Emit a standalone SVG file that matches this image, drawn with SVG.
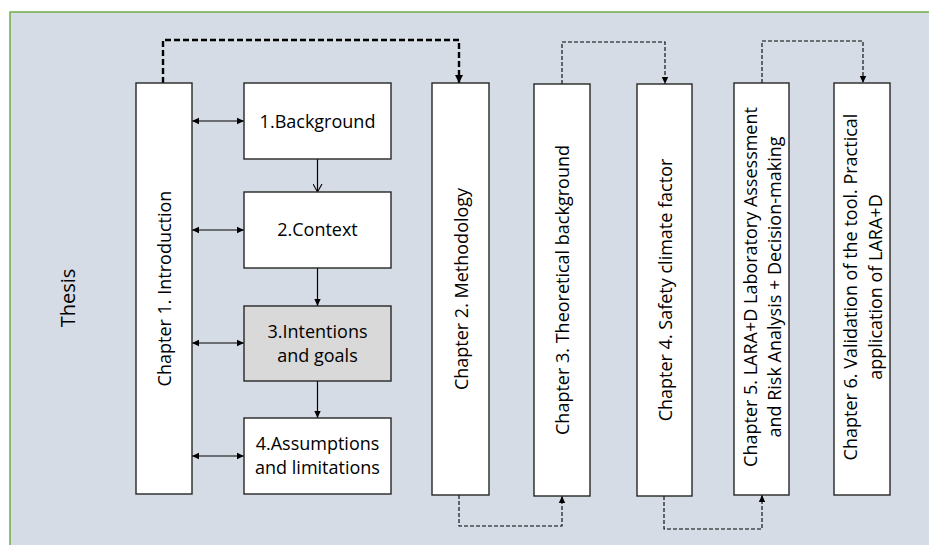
<svg xmlns="http://www.w3.org/2000/svg" width="929" height="545" viewBox="0 0 929 545">
  <style>
    .box { fill: #ffffff; stroke: #262626; stroke-width: 1.4; }
    .grey { fill: #d9d9d9; }
    .lbl { font-family: "Open Sans", "Noto Sans", sans-serif; font-size: 18px; fill: #000000; text-anchor: middle; }
    .link { fill: none; stroke: #000000; stroke-width: 1.2; }
    .thick { fill: none; stroke: #000000; stroke-width: 2.4; stroke-dasharray: 6 3; }
    .thin { fill: none; stroke: #000000; stroke-width: 1.1; stroke-dasharray: 4 2; }
  </style>
  <defs>
    <marker id="tip" markerUnits="userSpaceOnUse" markerWidth="8" markerHeight="8" refX="7" refY="4" orient="auto-start-reverse">
      <path d="M0,0.8 L7,4 L0,7.2 z" fill="#000000"/>
    </marker>
    <marker id="tipBig" markerUnits="userSpaceOnUse" markerWidth="10" markerHeight="10" refX="8" refY="5" orient="auto">
      <path d="M0,1 L8,5 L0,9 z" fill="#000000"/>
    </marker>
    <marker id="vee" markerUnits="userSpaceOnUse" markerWidth="10" markerHeight="10" refX="8" refY="5" orient="auto">
      <path d="M0,0.5 L8,5 L0,9.5" fill="none" stroke="#000000" stroke-width="1.1"/>
    </marker>
  </defs>

  <!-- canvas -->
  <rect x="10" y="12" width="930" height="545" fill="#d6dce5" stroke="#70ad47" stroke-width="1.5"/>
  <text class="lbl" style="font-size:20px" transform="translate(68,298) rotate(-90)" x="0" y="7">Thesis</text>

  <!-- connectors -->
  <g id="connectors">
    <path class="link" d="M192,121 H244" marker-start="url(#tip)" marker-end="url(#tip)"/>
    <path class="link" d="M192,230 H244" marker-start="url(#tip)" marker-end="url(#tip)"/>
    <path class="link" d="M192,343 H244" marker-start="url(#tip)" marker-end="url(#tip)"/>
    <path class="link" d="M192,456 H244" marker-start="url(#tip)" marker-end="url(#tip)"/>
    <path class="link" d="M317.5,159 V192" marker-end="url(#vee)"/>
    <path class="link" d="M317.5,268 V306" marker-end="url(#tip)"/>
    <path class="link" d="M317.5,381 V418" marker-end="url(#tip)"/>
    <path class="thick" d="M163,83 V40 H459 V83" marker-end="url(#tipBig)"/>
    <path class="thin" d="M562,84 V42 H665 V84" marker-end="url(#tip)"/>
    <path class="thin" d="M762,83 V41 H863 V83" marker-end="url(#tip)"/>
    <path class="thin" d="M459,495 V526 H562 V496" marker-end="url(#tip)"/>
    <path class="thin" d="M664,496 V529 H762 V495" marker-end="url(#tip)"/>
  </g>

  <!-- chapter columns -->
  <g id="ch1">
    <rect class="box" x="136" y="83" width="56" height="411"/>
    <text class="lbl" transform="translate(164,288.5) rotate(-90)" x="0" y="7">Chapter 1. Introduction</text>
  </g>
  <g id="ch2">
    <rect class="box" x="432" y="83" width="57" height="412"/>
    <text class="lbl" transform="translate(460.5,289) rotate(-90)" x="0" y="7">Chapter 2. Methodology</text>
  </g>
  <g id="ch3">
    <rect class="box" x="534" y="84" width="56" height="412"/>
    <text class="lbl" transform="translate(562,290) rotate(-90)" x="0" y="7">Chapter 3. Theoretical background</text>
  </g>
  <g id="ch4">
    <rect class="box" x="637" y="84" width="55" height="412"/>
    <text class="lbl" transform="translate(664.5,290) rotate(-90)" x="0" y="7">Chapter 4. Safety climate factor</text>
  </g>
  <g id="ch5">
    <rect class="box" x="734" y="83" width="55" height="412"/>
    <text class="lbl" transform="translate(761.5,287) rotate(-90)" x="0" y="-5">Chapter 5. LARA+D Laboratory Assessment</text>
    <text class="lbl" transform="translate(761.5,287) rotate(-90)" x="0" y="19.5">and Risk Analysis + Decision-making</text>
  </g>
  <g id="ch6">
    <rect class="box" x="834" y="83" width="56" height="412"/>
    <text class="lbl" transform="translate(862,287) rotate(-90)" x="0" y="-5">Chapter 6. Validation of the tool. Practical</text>
    <text class="lbl" transform="translate(862,287) rotate(-90)" x="0" y="19.5">application of LARA+D</text>
  </g>

  <!-- introduction sections -->
  <g id="s1">
    <rect class="box" x="244" y="83" width="147" height="76"/>
    <text class="lbl" x="317.5" y="127.5">1.Background</text>
  </g>
  <g id="s2">
    <rect class="box" x="244" y="192" width="147" height="76"/>
    <text class="lbl" x="317.5" y="236">2.Context</text>
  </g>
  <g id="s3">
    <rect class="box grey" x="244" y="306" width="147" height="75"/>
    <text class="lbl" x="317.5" y="338">3.Intentions</text>
    <text class="lbl" x="317.5" y="362">and goals</text>
  </g>
  <g id="s4">
    <rect class="box" x="244" y="418" width="147" height="76"/>
    <text class="lbl" x="317.5" y="449.5">4.Assumptions</text>
    <text class="lbl" x="317.5" y="473.5">and limitations</text>
  </g>
</svg>
